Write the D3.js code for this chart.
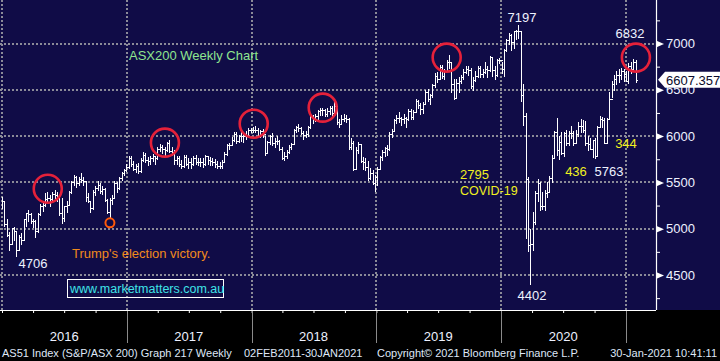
<!DOCTYPE html>
<html><head><meta charset="utf-8">
<script src="https://cdn.jsdelivr.net/npm/d3@7"></script>
<style>html,body{margin:0;padding:0;background:#000;overflow:hidden}svg{display:block}</style>
</head><body>
<svg id="c" width="720" height="361"></svg>
<script>
// ---- DATA (weekly bars, week ending Fridays from 2016-01-01) ----
const firstWeek = "2016-01-01";
const lastWeek = "2021-01-29";
const high = [
5340,5296,5110,4960,5010,5020,4980,4930,4950,5110,5170,5200,5170,5110,5090,5170,5270,5280,5390,5400,5360,5400,5420,5400,5330,5330,5250,5300,5410,5510,5580,5570,5560,5600,5560,5520,5390,5300,5420,5460,5510,5490,5460,5440,5320,5330,5360,5510,5500,5560,5610,5650,5700,
5780,5780,5730,5700,5710,5760,5830,5820,5770,5780,5810,5790,5880,5920,5900,5880,5940,5956,5880,5850,5790,5790,5740,5800,5800,5760,5760,5780,5800,5760,5760,5760,5800,5790,5770,5760,5750,5730,5720,5740,5830,5910,5930,5990,6040,6040,6010,6050,6030,6060,6090,6090,
6100,6110,6090,6070,6080,6000,5950,6010,6030,5980,6000,5960,5880,5830,5850,5900,5930,6080,6110,6130,6100,6050,6060,6110,6230,6230,6240,6280,6300,6300,6290,6300,6330,6330,6370,6330,6190,6230,6240,6230,6200,5980,5950,5880,5940,5910,5770,5760,5730,5660,5630,5580,
5670,5790,5850,5880,5900,6040,6080,6190,6230,6260,6210,6240,6210,6290,6290,6280,6400,6390,6360,6370,6500,6510,6460,6560,6680,6690,6770,6770,6720,6820,6880,6790,6620,6620,6640,6660,6720,6760,6760,6740,6640,6700,6760,6760,6720,6800,6760,6870,6850,6760,6830,6840,
6800,6940,7050,7110,7100,7140,7150,7197,7140,6560,6250,5560,5000,5180,5410,5540,5500,5400,5420,5500,5570,5800,6060,6200,6000,6040,6040,6070,6060,6110,6060,6070,6150,6180,6170,6160,6000,5980,5960,5980,6110,6220,6210,6200,6200,6480,6600,6660,6700,6720,6740,6720,6700,6790,6800,6832,6820];
const low = [
5225,5030,4920,4765,4830,4880,4706,4770,4840,4880,5030,5080,5060,5020,4910,4960,5150,5190,5240,5290,5250,5300,5330,5300,5150,5060,5080,5180,5260,5390,5470,5450,5470,5500,5470,5300,5290,5180,5210,5360,5420,5390,5380,5300,5170,5120,5270,5330,5400,5430,5530,5580,5620,
5660,5680,5630,5610,5600,5610,5730,5720,5690,5700,5730,5700,5750,5840,5820,5800,5840,5830,5800,5700,5700,5680,5660,5670,5690,5660,5660,5690,5700,5690,5680,5670,5690,5700,5690,5690,5670,5660,5660,5660,5720,5800,5860,5900,5950,5930,5940,5950,5940,5970,6000,6040,
6040,6040,5990,5990,5990,5800,5820,5920,5900,5880,5920,5850,5750,5740,5760,5820,5860,5910,6040,6060,6020,5970,5990,6000,6090,6140,6160,6190,6230,6230,6220,6220,6240,6200,6250,6130,6100,6130,6160,6150,5860,5860,5630,5650,5820,5720,5640,5630,5530,5540,5480,5410,
5470,5640,5740,5790,5800,5850,5990,6050,6140,6150,6120,6140,6100,6170,6190,6190,6260,6300,6240,6250,6350,6380,6350,6420,6530,6580,6620,6630,6620,6700,6740,6480,6400,6410,6480,6570,6620,6680,6660,6520,6500,6590,6640,6640,6640,6680,6640,6700,6650,6620,6650,6790,
6680,6650,6920,7000,6930,6950,7050,7060,6380,6120,4900,4760,4402,4770,5050,5300,5200,5210,5200,5340,5400,5500,5760,5800,5750,5810,5790,5900,5900,5980,5900,5940,6000,6040,6040,5900,5850,5860,5770,5763,5800,6100,6100,5930,5930,6200,6420,6500,6560,6580,6620,6590,6590,6570,6680,6700,6580];
const close = [
5296,5050,4935,4840,5005,4977,4765,4914,4880,5100,5166,5161,5084,5083,4970,5160,5250,5252,5319,5330,5320,5379,5362,5332,5165,5113,5245,5260,5399,5499,5562,5497,5541,5529,5512,5340,5300,5221,5400,5435,5470,5412,5430,5310,5180,5312,5335,5495,5440,5550,5600,5630,5665,
5760,5700,5650,5680,5620,5740,5800,5740,5730,5760,5780,5760,5860,5880,5860,5850,5925,5840,5830,5740,5760,5700,5680,5770,5700,5720,5700,5760,5720,5720,5720,5700,5780,5740,5730,5720,5700,5680,5680,5720,5810,5900,5905,5960,6020,5950,6000,6000,6000,6000,6070,6065,
6070,6070,6005,6050,6020,5820,5940,6000,5930,5950,5950,5860,5760,5790,5830,5880,5920,6070,6100,6090,6030,6010,6020,6100,6220,6195,6220,6270,6280,6280,6240,6270,6300,6250,6320,6150,6130,6190,6200,6180,5880,5930,5650,5850,5920,5730,5720,5670,5550,5600,5490,5560,
5640,5770,5830,5870,5860,6020,6060,6170,6200,6200,6180,6200,6180,6270,6210,6260,6380,6340,6290,6350,6480,6400,6440,6550,6650,6620,6750,6650,6700,6800,6800,6560,6410,6570,6600,6640,6690,6730,6710,6540,6610,6650,6740,6670,6690,6720,6710,6850,6710,6660,6820,6820,
6730,6930,7040,7090,7020,7130,7130,7140,6440,6220,5540,4820,4840,5070,5390,5490,5240,5240,5390,5400,5550,5760,6040,5850,5940,5820,6030,5930,6030,6030,5930,6020,6110,6110,6070,5930,5910,5860,5960,5790,6100,6180,6170,5930,6190,6400,6560,6620,6660,6660,6700,6670,6600,6760,6720,6800,6607];
const yTicks = [4500, 5000, 5500, 6000, 6500, 7000];
const yMinorTicks = [4250, 4750, 5250, 5750, 6250, 6750, 7250];
const yearLabels = ["2016", "2017", "2018", "2019", "2020"];
const yearStarts = ["2016-01-01","2017-01-01","2018-01-01","2019-01-01","2020-01-01","2021-01-01"];
const circleDates = ["2016-05-14","2017-04-22","2018-01-07","2018-07-28","2019-07-26","2021-01-30"];
const circleValues = [5431, 5929, 6134, 6307, 6848, 6848];
const eventDate = "2016-11-12";
const eventValue = 5063;
const lastPrice = 6607.357;

// ---- LAYOUT ----
const W = 720, H = 361, plotR = 656, plotB = 310;
const parse = d3.utcParse("%Y-%m-%d");
const dates = d3.utcFriday.range(parse(firstWeek), d3.utcDay.offset(parse(lastWeek), 1));
const bars = dates.map((d, i) => ({date: d, high: high[i], low: low[i], close: close[i], open: i > 0 ? close[i-1] : null}));

const x = d3.scaleUtc().domain([parse("2016-01-01"), parse("2021-01-01")]).range([2, 626]);
const y = d3.scaleLinear().domain([4500, 7000]).range([275, 43.5]);

const svg = d3.select("#c");
const font = "'Liberation Sans', Arial, sans-serif";
svg.append("rect").attr("x",0).attr("y",0).attr("width",W).attr("height",plotB).attr("fill","#100c47");
svg.append("rect").attr("x",0).attr("y",plotB).attr("width",W).attr("height",H-plotB).attr("fill","#000");

// grid
const grid = svg.append("g").attr("stroke","#8b8b98").attr("stroke-width",2).attr("stroke-dasharray","2,2");
grid.selectAll("line.h").data(yTicks).join("line")
  .attr("x1",0).attr("x2",plotR).attr("y1",d=>Math.round(y(d))).attr("y2",d=>Math.round(y(d)));
grid.selectAll("line.v").data(yearStarts).join("line")
  .attr("y1",0).attr("y2",plotB).attr("x1",d=>Math.round(x(parse(d)))).attr("x2",d=>Math.round(x(parse(d))));

// bars
const px = d => Math.round(x(d)) + 0.5;
const py = v => Math.round(y(v)) + 0.5;
svg.append("path")
  .attr("fill","none").attr("stroke","#ffffff").attr("stroke-width",1).attr("shape-rendering","crispEdges")
  .attr("d", bars.map(b => {
    const c = px(b.date);
    let s = `M${c},${py(b.high)-0.5}V${py(b.low)+0.5}`;
    if (b.open !== null) s += `M${c-1.5},${py(b.open)}H${c}`;
    s += `M${c},${py(b.close)}H${c+1.5}`;
    return s;
  }).join(""));

// circles
svg.append("g").selectAll("circle").data(circleDates).join("circle")
  .attr("cx",(d)=>x(parse(d))).attr("cy",(d,i)=>y(circleValues[i])).attr("r",14)
  .attr("fill","none").attr("stroke","#e5213a").attr("stroke-width",2.6);
svg.append("circle").attr("cx",x(parse(eventDate))).attr("cy",y(eventValue)).attr("r",4.5)
  .attr("fill","none").attr("stroke","#ff5a0a").attr("stroke-width",2);

// right axis
svg.append("line").attr("x1",plotR+0.5).attr("x2",plotR+0.5).attr("y1",0).attr("y2",plotB).attr("stroke","#fff").attr("stroke-width",1.2);
const ay = svg.append("g").attr("transform",`translate(${plotR},0)`)
  .call(d3.axisRight(y).tickValues(yTicks).tickSize(0).tickPadding(10).tickFormat(d3.format("d")));
ay.select(".domain").remove();
ay.selectAll("text").attr("fill","#eef2ff").attr("font-family",font).attr("font-size",13);
ay.selectAll(".tick").append("path").attr("d","M0,-3.5L8,0L0,3.5Z").attr("fill","#fff");
const amy = svg.append("g").attr("transform",`translate(${plotR},0)`)
  .call(d3.axisRight(y).tickValues(yMinorTicks).tickSize(4).tickFormat(""));
amy.select(".domain").remove();
amy.selectAll("line").attr("stroke","#fff");

// last price box
const lp = y(lastPrice);
svg.append("path").attr("d",`M658,${lp}L665,${lp-8}H720V${lp+8}H665Z`).attr("fill","#fff");
svg.append("text").attr("x",666).attr("y",lp+5).text(d3.format(".3f")(lastPrice))
  .attr("fill","#0a0a2a").attr("font-family",font).attr("font-size",13);

// bottom axis
svg.append("line").attr("x1",0).attr("x2",plotR).attr("y1",plotB+0.5).attr("y2",plotB+0.5).attr("stroke","#fff").attr("stroke-width",1.2);
const ax = svg.append("g").attr("transform",`translate(0,${plotB})`)
  .call(d3.axisBottom(x).ticks(d3.utcMonth.every(3)).tickSize(3).tickFormat(""));
ax.select(".domain").remove();
ax.selectAll("line").attr("stroke","#fff");
svg.append("g").selectAll("line").data(yearStarts.slice(1)).join("line")
  .attr("x1",d=>Math.round(x(parse(d)))+0.5).attr("x2",d=>Math.round(x(parse(d)))+0.5)
  .attr("y1",plotB+1).attr("y2",343).attr("stroke","#8a8a8a").attr("stroke-width",1);
svg.append("g").selectAll("text").data(yearLabels).join("text")
  .attr("x",d=>x(parse(d+"-07-01"))).attr("y",341).attr("text-anchor","middle")
  .attr("fill","#eef2ff").attr("font-family",font).attr("font-size",13).text(d=>d);

// annotations
function label(t, xx, yy, fill, size, anchor) {
  svg.append("text").attr("x",xx).attr("y",yy).attr("fill",fill).attr("font-family",font)
    .attr("font-size",size||13).attr("text-anchor",anchor||"start").text(t);
}
label("ASX200 Weekly Chart", 129, 60, "#8fe68f", 13);
label("7197", 522, 22, "#eef2ff", 13, "middle");
label("6832", 630, 38, "#eef2ff", 13, "middle");
label("4706", 33, 268, "#eef2ff", 13, "middle");
label("4402", 532, 300, "#eef2ff", 13, "middle");
label("5763", 609, 176, "#eef2ff", 13, "middle");
label("436", 576, 176, "#f0f020", 13, "middle");
label("344", 626, 148, "#f0f020", 13, "middle");
label("2795", 460, 179, "#f0f020", 13);
label("COVID-19", 460, 195, "#f0f020", 12.5);
label("Trump's election victory.", 72, 258, "#f08a1c", 13);
svg.append("rect").attr("x",67.5).attr("y",279.5).attr("width",156).attr("height",18)
  .attr("fill","none").attr("stroke","#fff").attr("stroke-width",1);
label("www.marketmatters.com.au", 70, 293, "#3fe3e8", 12.5);

// footer
const ff = "#dfe7f7";
label("AS51 Index (S&P/ASX 200) Graph 217  Weekly", 2, 357, ff, 11);
label("02FEB2011-30JAN2021", 244, 357, ff, 11);
label("Copyright\u00a9 2021 Bloomberg Finance L.P.", 377, 357, ff, 11);
label("30-Jan-2021 10:41:11", 717, 357, ff, 11, "end");
</script>
</body></html>
